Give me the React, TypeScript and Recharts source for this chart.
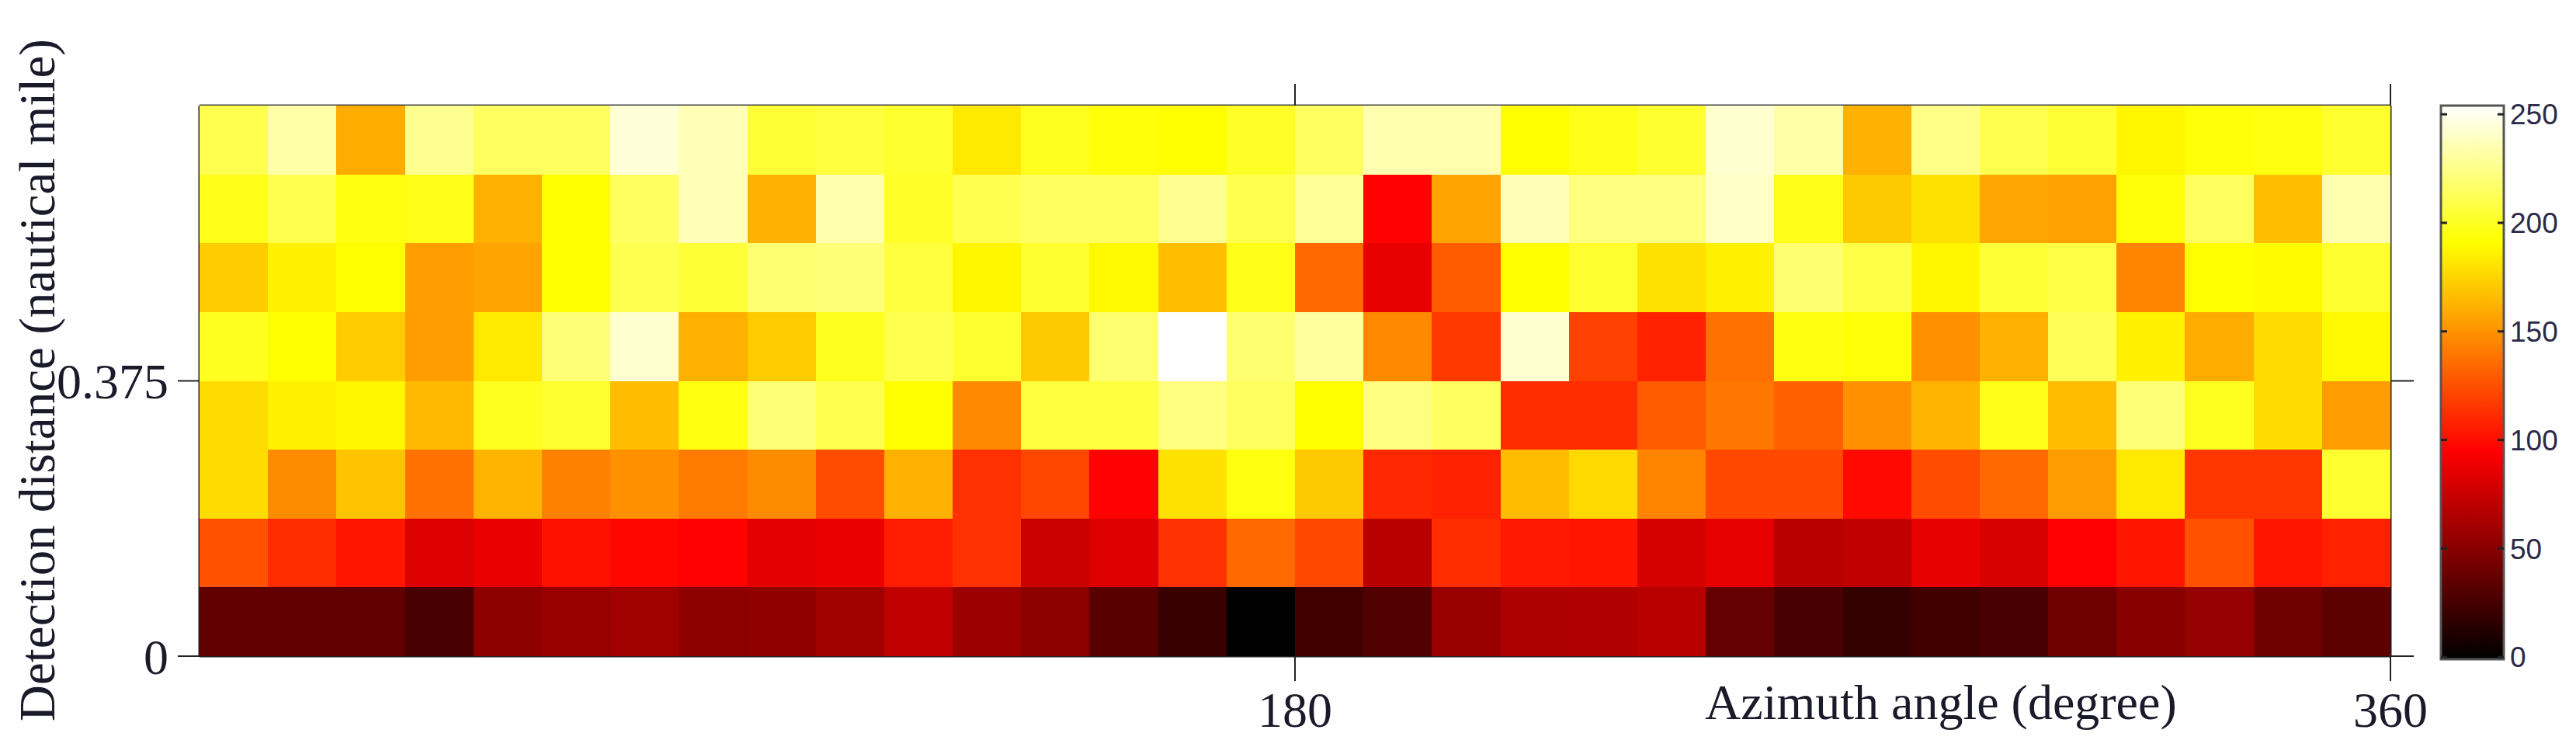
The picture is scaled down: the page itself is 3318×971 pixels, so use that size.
import React from 'react';
import { ScatterChart, Scatter, XAxis, YAxis, ReferenceArea } from 'recharts';

const rowDistances = [0.703125, 0.609375, 0.515625, 0.421875, 0.328125, 0.234375, 0.140625, 0.046875];
const azimuths = [5.625, 16.875, 28.125, 39.375, 50.625, 61.875, 73.125, 84.375, 95.625, 106.875, 118.125, 129.375, 140.625, 151.875, 163.125, 174.375, 185.625, 196.875, 208.125, 219.375, 230.625, 241.875, 253.125, 264.375, 275.625, 286.875, 298.125, 309.375, 320.625, 331.875, 343.125, 354.375];

const row0 = [211, 233, 160, 227, 215, 215, 245, 237, 205, 207, 203, 183, 199, 193, 191, 201, 215, 235, 235, 191, 197, 203, 243, 233, 162, 225, 211, 205, 188, 193, 195, 203];
const row1 = [197, 211, 195, 197, 162, 191, 215, 237, 162, 235, 201, 211, 215, 215, 227, 211, 229, 96, 157, 237, 223, 223, 241, 197, 171, 180, 158, 156, 193, 215, 167, 235];
const row2 = [172, 186, 191, 154, 157, 191, 211, 205, 219, 221, 207, 188, 203, 189, 167, 197, 135, 87, 130, 191, 203, 180, 186, 219, 209, 188, 205, 209, 145, 191, 190, 203];
const row3 = [199, 191, 172, 154, 183, 221, 243, 162, 172, 199, 211, 203, 171, 219, 255, 219, 231, 147, 117, 243, 120, 108, 138, 195, 193, 150, 162, 213, 186, 160, 178, 189];
const row4 = [178, 186, 188, 165, 199, 203, 166, 195, 221, 211, 191, 147, 207, 207, 223, 215, 191, 223, 215, 112, 112, 130, 140, 132, 150, 163, 197, 166, 221, 199, 178, 154];
const row5 = [178, 148, 169, 138, 163, 144, 150, 142, 148, 124, 162, 114, 122, 96, 180, 195, 171, 111, 108, 166, 177, 145, 123, 123, 99, 124, 135, 154, 183, 116, 116, 203];
const row6 = [126, 112, 104, 83, 88, 102, 98, 96, 85, 88, 106, 114, 75, 83, 114, 135, 123, 69, 112, 105, 104, 80, 87, 69, 72, 87, 81, 96, 104, 126, 104, 108];
const row7 = [36, 36, 36, 27, 53, 57, 60, 53, 54, 60, 72, 59, 53, 33, 21, 0, 24, 30, 57, 65, 66, 69, 38, 27, 20, 24, 27, 42, 51, 56, 42, 35];
const rows = [row0, row1, row2, row3, row4, row5, row6, row7];

const xTicks = [180, 360];
const yTicks = [0, 0.375];
const barTicks = [0, 50, 100, 150, 200, 250];
const barAnchors = [
  { x: 0.5, level: -1 },
  { x: 0.5, level: 254 },
];

const cells = rows.flatMap((r, j) =>
  r.map((v, i) => ({ azimuth: azimuths[i], distance: rowDistances[j], intensity: v }))
);

const clamp = (t: number) => Math.max(0, Math.min(1, t));
const hot = (v: number) => {
  const r = Math.round(255 * clamp(v / 95.6));
  const g = Math.round(255 * clamp((v - 95.6) / 95.6));
  const b = Math.round(255 * clamp((v - 191.25) / 63.75));
  return `rgb(${r},${g},${b})`;
};

const W = 3318;
const H = 971;
const LEFT = 257;
const RIGHT = 3079;
const TOP = 136;
const BOTTOM = 845;
const CW = (RIGHT - LEFT) / 32;
const CH = (BOTTOM - TOP) / 8;
const SERIF = '"Liberation Serif", serif';
const SANS = '"Liberation Sans", sans-serif';
const INK = '#222';

const CellShape = (p: any) => (
  <rect
    x={p.cx - CW / 2}
    y={p.cy - CH / 2}
    width={CW}
    height={CH}
    fill={hot(p.payload.intensity)}
    shapeRendering="crispEdges"
  />
);
const NoShape = () => <g />;
const blank = () => '';

const serifTick = { fontFamily: SERIF, fontSize: 64, fill: '#1a1a2a' };

export default function App() {
  return (
    <div style={{ position: 'absolute', left: 0, top: 0, width: W, height: H, background: '#fff', overflow: 'hidden' }}>
      <div style={{ position: 'absolute', left: 0, top: 0 }}>
        <ScatterChart width={W} height={H} margin={{ top: 0, right: 0, bottom: 0, left: 0 }}>
          <XAxis
            xAxisId="b"
            type="number"
            dataKey="azimuth"
            domain={[0, 360]}
            ticks={xTicks}
            interval={0}
            orientation="bottom"
            height={H - BOTTOM}
            tickSize={32}
            tickMargin={14}
            tick={serifTick}
            axisLine={{ stroke: INK, strokeWidth: 3 }}
            tickLine={{ stroke: INK, strokeWidth: 2 }}
          />
          <XAxis
            xAxisId="t"
            type="number"
            dataKey="azimuth"
            domain={[0, 360]}
            ticks={xTicks}
            interval={0}
            orientation="top"
            height={TOP}
            tickSize={28}
            tickFormatter={blank}
            axisLine={{ stroke: '#444', strokeWidth: 3 }}
            tickLine={{ stroke: INK, strokeWidth: 2 }}
          />
          <YAxis
            yAxisId="l"
            type="number"
            dataKey="distance"
            domain={[0, 0.75]}
            ticks={yTicks}
            interval={0}
            orientation="left"
            width={LEFT}
            tickSize={28}
            tickMargin={12}
            tick={serifTick}
            axisLine={{ stroke: INK, strokeWidth: 3 }}
            tickLine={{ stroke: INK, strokeWidth: 2 }}
          />
          <YAxis
            yAxisId="r"
            type="number"
            dataKey="distance"
            domain={[0, 0.75]}
            ticks={yTicks}
            interval={0}
            orientation="right"
            width={W - RIGHT}
            tickSize={30}
            tickFormatter={blank}
            axisLine={{ stroke: INK, strokeWidth: 3 }}
            tickLine={{ stroke: INK, strokeWidth: 2 }}
          />
          <Scatter
            data={cells}
            xAxisId="b"
            yAxisId="l"
            shape={CellShape}
            isAnimationActive={false}
          />
          <Scatter data={cells} xAxisId="t" yAxisId="r" shape={NoShape} isAnimationActive={false} />
          <text x={2196} y={926} fontFamily={SERIF} fontSize={64} fill="#1a1a2a">
            Azimuth angle (degree)
          </text>
          <text transform="translate(70,929) rotate(-90)" fontFamily={SERIF} fontSize={65} fill="#1a1a2a">
            Detection distance (nautical mile)
          </text>
        </ScatterChart>
      </div>
      <div style={{ position: 'absolute', left: 3124, top: 106 }}>
        <ScatterChart width={194} height={773} margin={{ top: 30, right: 0, bottom: 30, left: 0 }}>
          <defs>
            <linearGradient id="hotGrad" x1="0" y1="0" x2="0" y2="1">
              <stop offset="0" stopColor="#ffffff" />
              <stop offset="0.247" stopColor="#ffff00" />
              <stop offset="0.624" stopColor="#ff0000" />
              <stop offset="1" stopColor="#000000" />
            </linearGradient>
          </defs>
          <XAxis xAxisId="x" type="number" dataKey="x" domain={[0, 1]} hide height={0} />
          <YAxis
            yAxisId="bar"
            type="number"
            dataKey="level"
            domain={[-1, 254]}
            ticks={barTicks}
            interval={0}
            orientation="right"
            width={93}
            tickSize={-8}
            tickMargin={16}
            tick={{ fontFamily: SANS, fontSize: 37, fill: '#2a2a4a' }}
            axisLine={false}
            tickLine={{ stroke: '#222', strokeWidth: 3 }}
          />
          <YAxis
            yAxisId="barL"
            type="number"
            dataKey="level"
            domain={[-1, 254]}
            ticks={barTicks}
            interval={0}
            orientation="left"
            width={20}
            tickSize={-8}
            tickFormatter={blank}
            axisLine={false}
            tickLine={{ stroke: '#222', strokeWidth: 3 }}
          />
          <ReferenceArea
            xAxisId="x"
            yAxisId="bar"
            x1={0}
            x2={1}
            y1={-1}
            y2={254}
            fill="url(#hotGrad)"
            fillOpacity={1}
            stroke="#555"
            strokeWidth={3}
          />
          <Scatter data={barAnchors} xAxisId="x" yAxisId="bar" shape={NoShape} isAnimationActive={false} />
          <Scatter data={barAnchors} xAxisId="x" yAxisId="barL" shape={NoShape} isAnimationActive={false} />
        </ScatterChart>
      </div>
    </div>
  );
}
